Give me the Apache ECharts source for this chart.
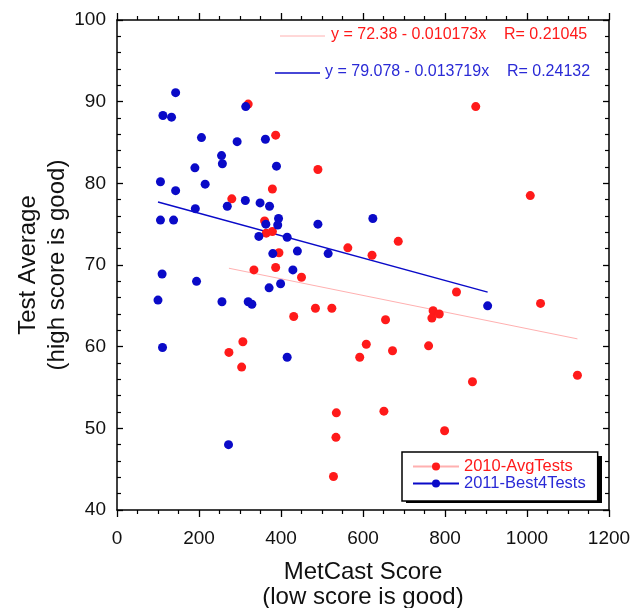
<!DOCTYPE html>
<html>
<head>
<meta charset="utf-8">
<title>MetCast Score vs Test Average</title>
<script src="https://cdn.jsdelivr.net/npm/echarts@6/dist/echarts.min.js"></script>
<style>
  html, body { margin: 0; padding: 0; background: #fff; }
  #main { width: 634px; height: 608px; }
</style>
</head>
<body>
<div id="main"></div>
<script>
// data
var redX = [320, 387, 490, 379, 280, 360, 364, 379, 563, 622, 395, 387, 334, 875, 1008, 686, 450, 431, 484, 524,
            307, 273, 304, 608, 592, 535, 534, 528, 828, 1033, 771, 768, 786, 655, 672, 760, 1123, 867, 651, 799];
var redY = [89.7, 85.9, 81.7, 79.3, 78.1, 75.4, 73.9, 74.1, 72.1, 71.2, 71.5, 69.7, 69.4, 89.4, 78.5, 72.9, 68.5, 63.7, 64.7, 64.7,
            60.6, 59.3, 57.5, 60.3, 58.7, 51.9, 48.9, 44.1, 66.7, 65.3, 64.4, 63.5, 64.0, 63.3, 59.5, 60.1, 56.5, 55.7, 52.1, 49.7];

var blueX = [143, 112, 133, 206, 293, 362, 314, 255, 257, 190, 389, 106, 215, 143, 313, 349, 372, 269, 191, 106, 138, 490,
             624, 363, 394, 392, 346, 415, 440, 515, 380, 429, 110, 194, 100, 256, 320, 329, 371, 399, 111, 415, 272, 904];
var blueY = [91.1, 88.3, 88.1, 85.6, 85.1, 85.4, 89.4, 83.4, 82.4, 81.9, 82.1, 80.2, 79.9, 79.1, 77.9, 77.6, 77.2, 77.2, 76.9, 75.5, 75.5, 75.0,
             75.7, 75.0, 75.7, 74.9, 73.5, 73.4, 71.7, 71.4, 71.4, 69.4, 68.9, 68.0, 65.7, 65.5, 65.5, 65.2, 67.2, 67.7, 59.9, 58.7, 48.0, 65.0];

// regression coefficients printed on the chart
var redFit = { a: 72.38, b: -0.010173, r: 0.21045 };
var blueFit = { a: 79.078, b: -0.013719, r: 0.24132 };

var seriesNames = ['2010-AvgTests', '2011-Best4Tests'];
var xTicks = [0, 200, 400, 600, 800, 1000, 1200];
var yTicks = [40, 50, 60, 70, 80, 90, 100];

var RED = '#ff1a1a';
var PINK = '#ffb0b0';
var BLUE = '#0a0ac8';
var BLUE_TXT = '#2a2ad6';
var FONT = 'Liberation Sans, Arial, sans-serif';

function pairs(xs, ys) {
  var out = [];
  for (var i = 0; i < xs.length; i++) out.push([xs[i], ys[i]]);
  return out;
}
function fitLine(xs, fit) {
  var lo = Math.min.apply(null, xs), hi = Math.max.apply(null, xs);
  return [[lo, fit.a + fit.b * lo], [hi, fit.a + fit.b * hi]];
}
function eqText(fit) {
  return 'y = ' + fit.a + ' - ' + Math.abs(fit.b) + 'x    R= ' + fit.r;
}
function plain(v) { return String(v); }

var myChart = echarts.init(document.getElementById('main'));

var tickX = {
  type: 'value', min: xTicks[0], max: xTicks[xTicks.length - 1], interval: 200,
  axisLine: { show: true, onZero: false, lineStyle: { color: '#000', width: 1.5 } },
  axisTick: { show: true, inside: false, length: 7, lineStyle: { color: '#000', width: 1.3 } },
  minorTick: { show: true, splitNumber: 4, length: 4, lineStyle: { color: '#000', width: 1.2 } },
  splitLine: { show: false }
};
var tickY = {
  type: 'value', min: yTicks[0], max: yTicks[yTicks.length - 1], interval: 10,
  axisLine: { show: true, onZero: false, lineStyle: { color: '#000', width: 1.5 } },
  axisTick: { show: true, inside: true, length: 6, lineStyle: { color: '#000', width: 1.3 } },
  minorTick: { show: true, splitNumber: 5, length: 4, lineStyle: { color: '#000', width: 1.2 } },
  splitLine: { show: false }
};

option = {
  animation: false,
  backgroundColor: '#fff',
  grid: { left: 117, right: 25, top: 20, bottom: 98, containLabel: false, outerBoundsMode: 'none' },
  xAxis: [
    Object.assign({}, tickX, {
      position: 'bottom',
      name: 'MetCast Score\n(low score is good)',
      nameLocation: 'middle', nameGap: 50, nameMoveOverlap: false,
      nameTextStyle: { fontFamily: FONT, fontSize: 24, color: '#111', lineHeight: 25 },
      axisLabel: { margin: 19, fontFamily: FONT, fontSize: 19, color: '#111', formatter: plain }
    }),
    Object.assign({}, tickX, { position: 'top', axisLabel: { show: false } })
  ],
  yAxis: [
    Object.assign({}, tickY, {
      position: 'left',
      name: 'Test Average\n(high score is good)',
      nameLocation: 'middle', nameRotate: 90, nameGap: 45, nameMoveOverlap: false,
      nameTextStyle: { fontFamily: FONT, fontSize: 24, color: '#111', lineHeight: 29 },
      axisLabel: { margin: 11, fontFamily: FONT, fontSize: 19, color: '#111', formatter: plain }
    }),
    Object.assign({}, tickY, { position: 'right', axisLabel: { show: false } })
  ],
  legend: {
    orient: 'vertical',
    left: 402, top: 452,
    padding: [6, 12, 9, 10],
    itemWidth: 46, itemHeight: 10, itemGap: 0,
    backgroundColor: '#fff',
    borderColor: '#000', borderWidth: 1.5,
    textStyle: { fontFamily: FONT, fontSize: 16.5, lineHeight: 16 },
    data: [
      { name: seriesNames[0], textStyle: { color: RED } },
      { name: seriesNames[1], textStyle: { color: BLUE_TXT } }
    ]
  },
  graphic: [
    // drop shadow behind the legend box
    { type: 'rect', z: 3, shape: { x: 406, y: 456, width: 196, height: 47 }, style: { fill: '#000' } },
    { type: 'line', shape: { x1: 280, y1: 36, x2: 325, y2: 36 }, style: { stroke: PINK, lineWidth: 1 } },
    { type: 'text', left: 331, top: 27, style: { text: eqText(redFit), fill: RED, font: '16px ' + FONT } },
    { type: 'line', shape: { x1: 275, y1: 73, x2: 320, y2: 73 }, style: { stroke: BLUE, lineWidth: 1.5 } },
    { type: 'text', left: 325, top: 64, style: { text: eqText(blueFit), fill: BLUE_TXT, font: '16px ' + FONT } }
  ],
  series: [
    {
      name: seriesNames[0], type: 'line', data: fitLine(redX, redFit),
      symbol: 'circle', symbolSize: 9, showSymbol: false, z: 1,
      lineStyle: { color: PINK, width: 1 }, itemStyle: { color: RED }
    },
    {
      name: seriesNames[1], type: 'line', data: fitLine(blueX, blueFit),
      symbol: 'circle', symbolSize: 9, showSymbol: false, z: 1,
      lineStyle: { color: BLUE, width: 1.5 }, itemStyle: { color: BLUE }
    },
    {
      name: 'red-points', type: 'scatter', data: pairs(redX, redY),
      symbolSize: 9, z: 3, itemStyle: { color: RED, opacity: 1 }
    },
    {
      name: 'blue-points', type: 'scatter', data: pairs(blueX, blueY),
      symbolSize: 9, z: 4, itemStyle: { color: BLUE, opacity: 1 }
    }
  ]
};

myChart.setOption(option);
window.onresize = myChart.resize;
</script>
</body>
</html>
